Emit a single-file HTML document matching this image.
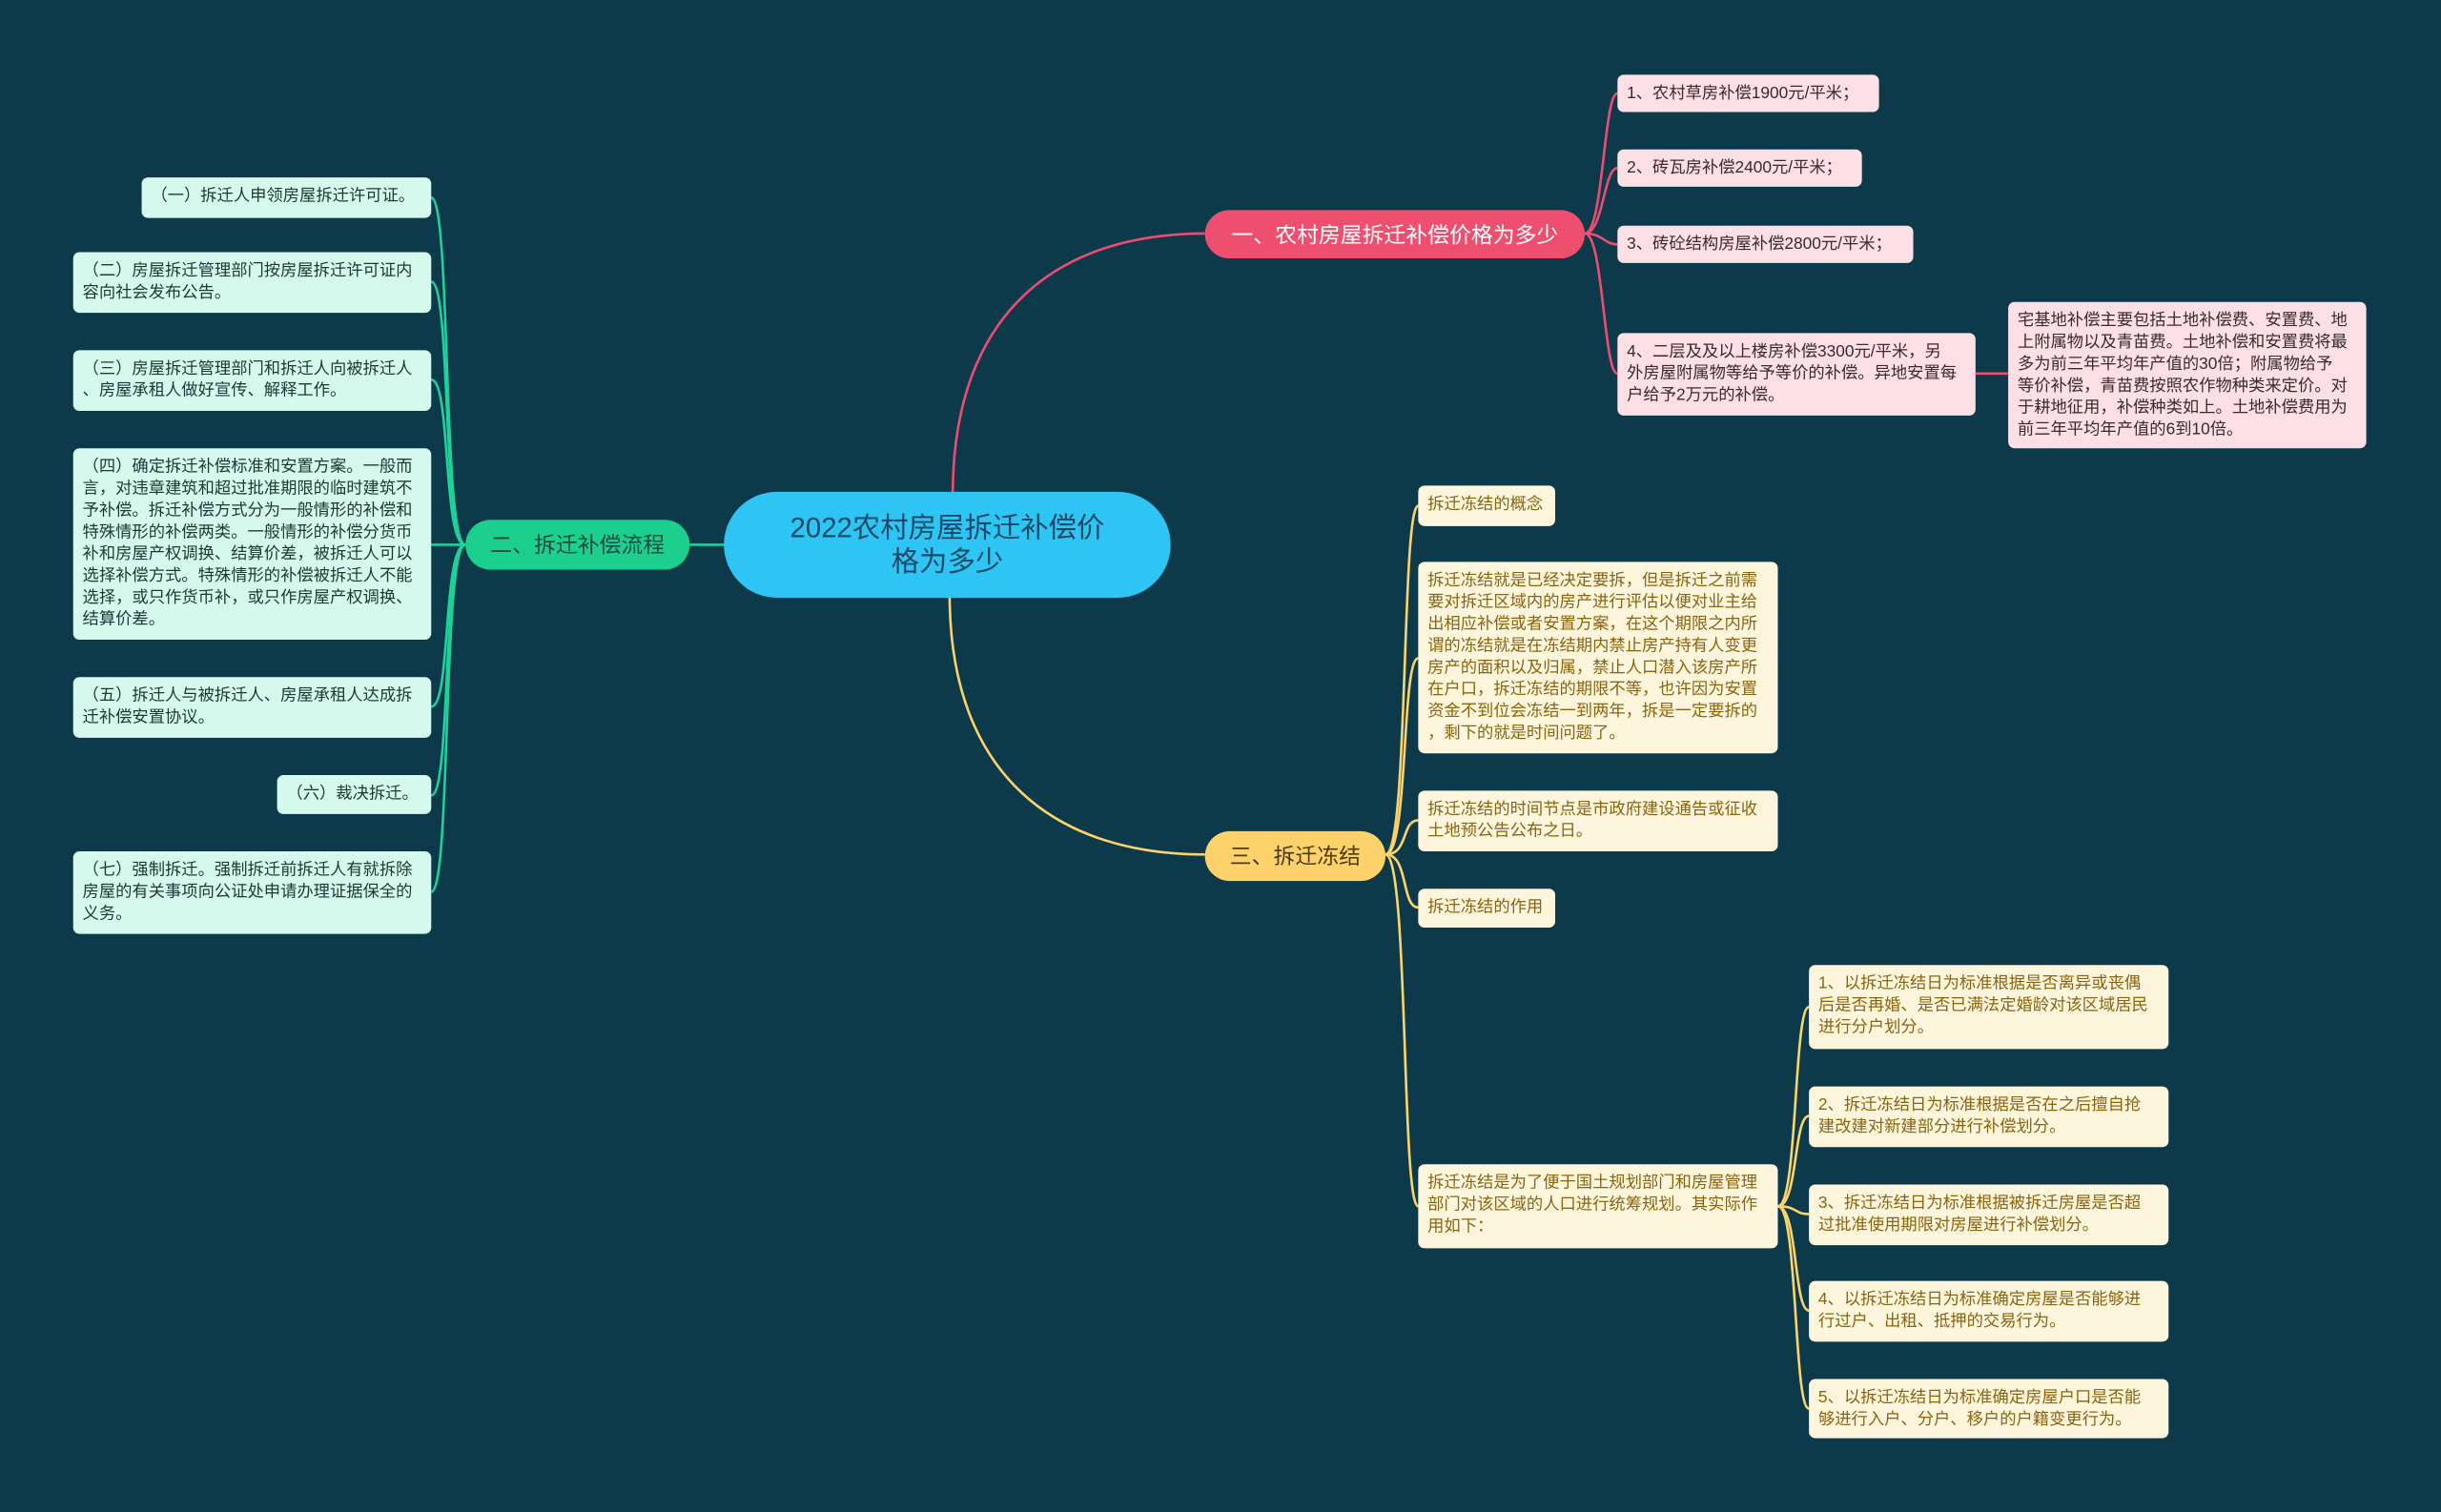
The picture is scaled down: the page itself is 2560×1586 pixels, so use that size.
<!DOCTYPE html>
<html><head><meta charset="utf-8"><style>
html,body{margin:0;padding:0;background:#0c3a4b;}
body{width:2560px;height:1586px;overflow:hidden;}
#w{position:absolute;left:0;top:0;width:1568px;height:971px;transform:scale(1.63265);transform-origin:0 0;font-family:"Liberation Sans","Noto Sans CJK SC",sans-serif;}
.n{position:absolute;box-sizing:border-box;border-radius:4px;font-size:10.6px;line-height:14px;padding:5px 6px;white-space:nowrap;}
.p{background:#fde0e6;color:#3a2a2e;}
.g{background:#d6f9ee;color:#1b3a34;}
.y{background:#fdf5dc;color:#8b6410;}
.b{position:absolute;box-sizing:border-box;border-radius:16px;font-size:14px;display:flex;align-items:center;justify-content:center;white-space:nowrap;}
svg{position:absolute;left:0;top:0;}
</style></head><body><div id="w">
<svg width="1568" height="971" fill="none" stroke-width="1.6">
<g stroke="#ee4d72">
<path d="M612 318 C612 200 680 150 774 150"/>
<path d="M1018 150 C1030 150 1030 60 1039 60"/>
<path d="M1018 150 C1030 150 1030 108 1039 108"/>
<path d="M1018 150 C1030 150 1030 157 1039 157"/>
<path d="M1018 150 C1030 150 1030 240 1039 240"/>
<path d="M1269 240 L1290 240"/>
</g>
<g stroke="#fcd36a">
<path d="M610 382 C610 500 680 549 774 549"/>
<path d="M890 549 C905 549 900 325 911 325"/>
<path d="M890 549 C905 549 900 423 911 423"/>
<path d="M890 549 C905 549 900 527 911 527"/>
<path d="M890 549 C905 549 900 583 911 583"/>
<path d="M890 549 C905 549 900 775 911 775"/>
<path d="M1142 775 C1155 775 1152 647 1162 647"/>
<path d="M1142 775 C1155 775 1152 717 1162 717"/>
<path d="M1142 775 C1155 775 1152 780 1162 780"/>
<path d="M1142 775 C1155 775 1152 842 1162 842"/>
<path d="M1142 775 C1155 775 1152 905 1162 905"/>
</g>
<g stroke="#1fd09a">
<path d="M443 350 L467 350"/>
<path d="M299 350 C284 350 290 127 277 127"/>
<path d="M299 350 C284 350 290 181 277 181"/>
<path d="M299 350 C284 350 290 244 277 244"/>
<path d="M299 350 L277 350"/>
<path d="M299 350 C284 350 290 454 277 454"/>
<path d="M299 350 C284 350 290 511 277 511"/>
<path d="M299 350 C284 350 290 573 277 573"/>
</g>
</svg>
<div class="b" style="left:465px;top:316px;width:287px;height:68px;border-radius:34px;background:#2ec4f4;color:#1b4a66;font-size:18px;line-height:22px;text-align:center;white-space:normal;">2022农村房屋拆迁补偿价<br>格为多少</div>
<div class="b" style="left:774px;top:135px;width:244px;height:31px;background:#ef4f6f;color:#fff;">一、农村房屋拆迁补偿价格为多少</div>
<div class="b" style="left:299px;top:334px;width:144px;height:32px;background:#1ccf8c;color:#1a4a44;">二、拆迁补偿流程</div>
<div class="b" style="left:774px;top:534px;width:116px;height:32px;background:#fdd26a;color:#4a3a10;">三、拆迁冻结</div>

<div class="n p" style="left:1039px;top:48px;width:168px;height:24px;">1、农村草房补偿1900元/平米；</div>
<div class="n p" style="left:1039px;top:96px;width:157px;height:24px;">2、砖瓦房补偿2400元/平米；</div>
<div class="n p" style="left:1039px;top:145px;width:190px;height:24px;">3、砖砼结构房屋补偿2800元/平米；</div>
<div class="n p" style="left:1039px;top:214px;width:230px;height:53px;">4、二层及及以上楼房补偿3300元/平米，另<br>外房屋附属物等给予等价的补偿。异地安置每<br>户给予2万元的补偿。</div>
<div class="n p" style="left:1290px;top:194px;width:230px;height:94px;">宅基地补偿主要包括土地补偿费、安置费、地<br>上附属物以及青苗费。土地补偿和安置费将最<br>多为前三年平均年产值的30倍；附属物给予<br>等价补偿，青苗费按照农作物种类来定价。对<br>于耕地征用，补偿种类如上。土地补偿费用为<br>前三年平均年产值的6到10倍。</div>

<div class="n g" style="left:91px;top:114px;width:186px;height:26px;">（一）拆迁人申领房屋拆迁许可证。</div>
<div class="n g" style="left:47px;top:162px;width:230px;height:39px;">（二）房屋拆迁管理部门按房屋拆迁许可证内<br>容向社会发布公告。</div>
<div class="n g" style="left:47px;top:225px;width:230px;height:39px;">（三）房屋拆迁管理部门和拆迁人向被拆迁人<br>、房屋承租人做好宣传、解释工作。</div>
<div class="n g" style="left:47px;top:288px;width:230px;height:123px;">（四）确定拆迁补偿标准和安置方案。一般而<br>言，对违章建筑和超过批准期限的临时建筑不<br>予补偿。拆迁补偿方式分为一般情形的补偿和<br>特殊情形的补偿两类。一般情形的补偿分货币<br>补和房屋产权调换、结算价差，被拆迁人可以<br>选择补偿方式。特殊情形的补偿被拆迁人不能<br>选择，或只作货币补，或只作房屋产权调换、<br>结算价差。</div>
<div class="n g" style="left:47px;top:435px;width:230px;height:39px;">（五）拆迁人与被拆迁人、房屋承租人达成拆<br>迁补偿安置协议。</div>
<div class="n g" style="left:178px;top:498px;width:99px;height:25px;">（六）裁决拆迁。</div>
<div class="n g" style="left:47px;top:547px;width:230px;height:53px;">（七）强制拆迁。强制拆迁前拆迁人有就拆除<br>房屋的有关事项向公证处申请办理证据保全的<br>义务。</div>

<div class="n y" style="left:911px;top:312px;width:88px;height:26px;">拆迁冻结的概念</div>
<div class="n y" style="left:911px;top:361px;width:231px;height:123px;">拆迁冻结就是已经决定要拆，但是拆迁之前需<br>要对拆迁区域内的房产进行评估以便对业主给<br>出相应补偿或者安置方案，在这个期限之内所<br>谓的冻结就是在冻结期内禁止房产持有人变更<br>房产的面积以及归属，禁止人口潜入该房产所<br>在户口，拆迁冻结的期限不等，也许因为安置<br>资金不到位会冻结一到两年，拆是一定要拆的<br>，剩下的就是时间问题了。</div>
<div class="n y" style="left:911px;top:508px;width:231px;height:39px;">拆迁冻结的时间节点是市政府建设通告或征收<br>土地预公告公布之日。</div>
<div class="n y" style="left:911px;top:571px;width:88px;height:25px;">拆迁冻结的作用</div>
<div class="n y" style="left:911px;top:748px;width:231px;height:54px;">拆迁冻结是为了便于国土规划部门和房屋管理<br>部门对该区域的人口进行统筹规划。其实际作<br>用如下：</div>
<div class="n y" style="left:1162px;top:620px;width:231px;height:54px;">1、以拆迁冻结日为标准根据是否离异或丧偶<br>后是否再婚、是否已满法定婚龄对该区域居民<br>进行分户划分。</div>
<div class="n y" style="left:1162px;top:698px;width:231px;height:39px;">2、拆迁冻结日为标准根据是否在之后擅自抢<br>建改建对新建部分进行补偿划分。</div>
<div class="n y" style="left:1162px;top:761px;width:231px;height:39px;">3、拆迁冻结日为标准根据被拆迁房屋是否超<br>过批准使用期限对房屋进行补偿划分。</div>
<div class="n y" style="left:1162px;top:823px;width:231px;height:39px;">4、以拆迁冻结日为标准确定房屋是否能够进<br>行过户、出租、抵押的交易行为。</div>
<div class="n y" style="left:1162px;top:886px;width:231px;height:38px;">5、以拆迁冻结日为标准确定房屋户口是否能<br>够进行入户、分户、移户的户籍变更行为。</div>
</div></body></html>
